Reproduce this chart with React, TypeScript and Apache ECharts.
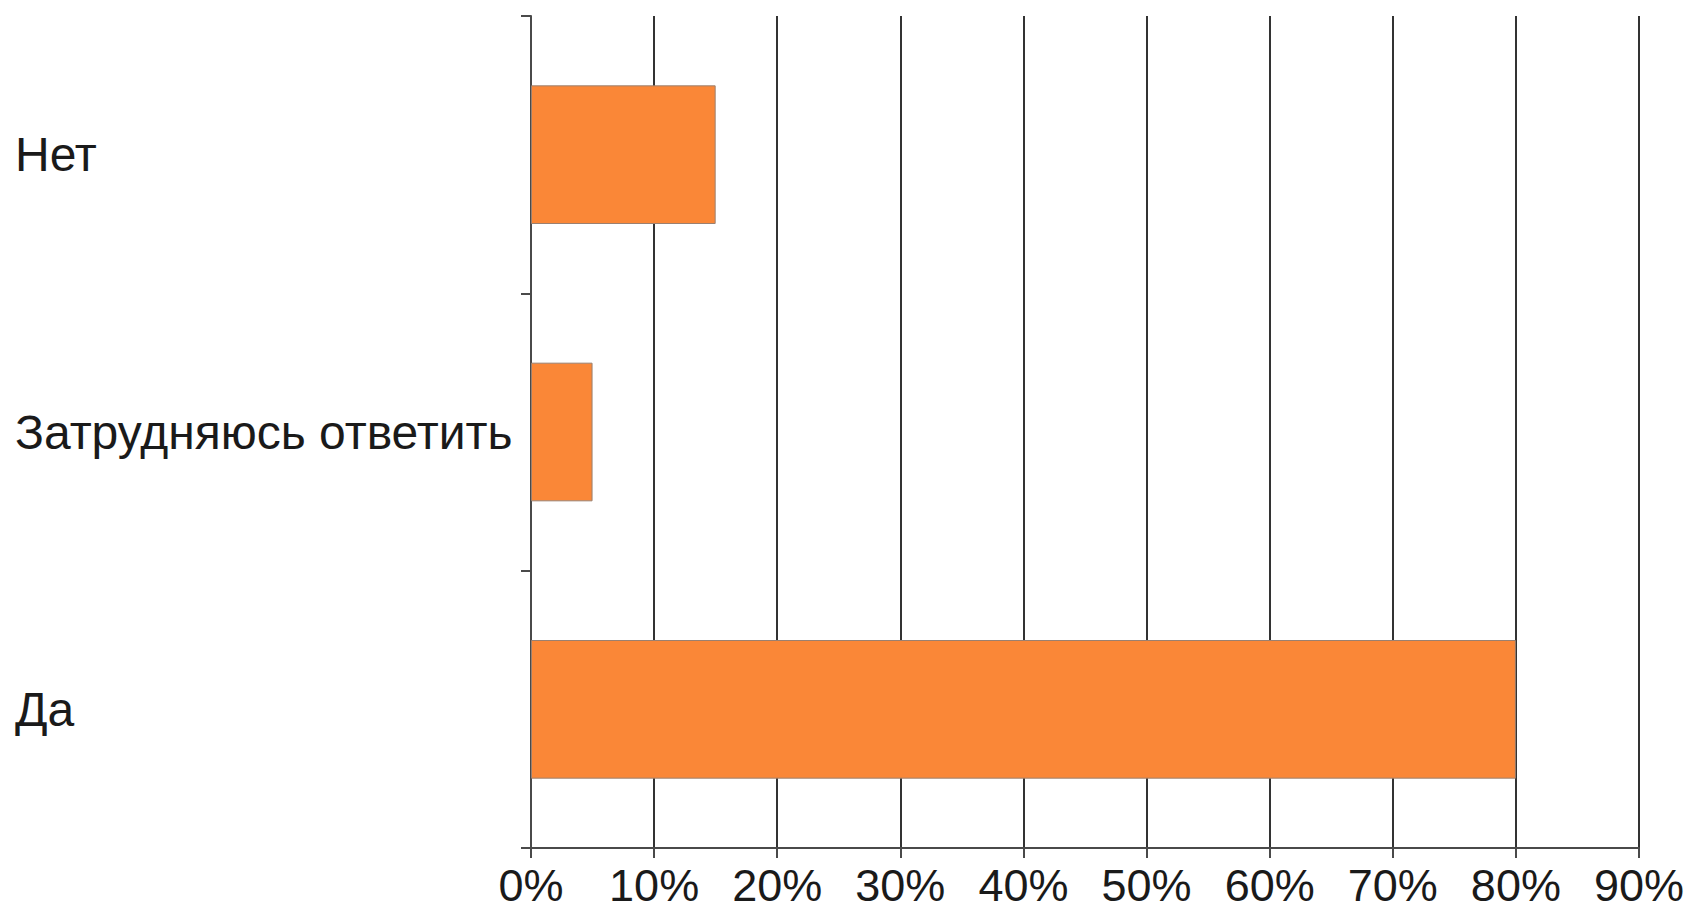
import React, { useEffect, useRef } from "react";
import * as echarts from "echarts";

const categories = ["Да", "Затрудняюсь ответить", "Нет"];
const values = [80, 5, 15];
const xTicks = { min: 0, max: 90, interval: 10 };

export default function App() {
  const ref = useRef<HTMLDivElement>(null);
  useEffect(() => {
    if (!ref.current) return;
    const chart = echarts.init(ref.current, undefined, { renderer: "svg" });
    const font = "'Liberation Sans', Arial, sans-serif";
    chart.setOption({
      animation: false,
      backgroundColor: "#ffffff",
      grid: { left: 531, right: 57, top: 16, bottom: 64, containLabel: false },
      xAxis: {
        type: "value",
        min: xTicks.min,
        max: xTicks.max,
        interval: xTicks.interval,
        axisLine: { show: true, lineStyle: { color: "#4a4a4a", width: 2 } },
        axisTick: { show: true, length: 10, lineStyle: { color: "#4a4a4a", width: 2 } },
        splitLine: { show: true, lineStyle: { color: "#333333", width: 2 } },
        axisLabel: {
          formatter: "{value}%",
          fontFamily: font,
          fontSize: 45,
          lineHeight: 44,
          color: "#1a1a1a",
          margin: 15,
        },
      },
      yAxis: {
        type: "category",
        data: categories,
        axisLine: { show: true, lineStyle: { color: "#4a4a4a", width: 2 } },
        axisTick: { show: true, length: 10, lineStyle: { color: "#4a4a4a", width: 2 } },
        axisLabel: {
          align: "left",
          margin: 516,
          fontFamily: font,
          fontSize: 48,
          color: "#1a1a1a",
        },
      },
      series: [
        {
          type: "bar",
          data: values,
          barWidth: "50%",
          itemStyle: { color: "#FA8737", borderColor: "#9a8070", borderWidth: 1 },
        },
      ],
    });
    return () => chart.dispose();
  }, []);
  return (
    <div
      ref={ref}
      style={{ position: "absolute", left: 0, top: 0, width: 1696, height: 912 }}
    />
  );
}
